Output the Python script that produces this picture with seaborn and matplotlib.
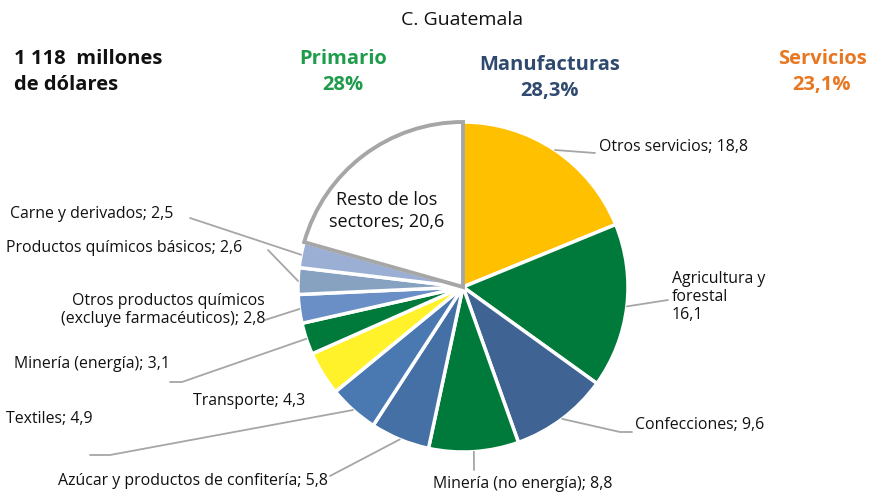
import numpy as np
import matplotlib
matplotlib.use("Agg")
import matplotlib.pyplot as plt
import seaborn as sns

# data, clockwise from 12 o'clock
sectors = [
    "Otros servicios", "Agricultura y forestal", "Confecciones", "Minería (no energía)",
    "Azúcar y productos de confitería", "Textiles", "Transporte", "Minería (energía)",
    "Otros productos químicos (excluye farmacéuticos)", "Productos químicos básicos",
    "Carne y derivados", "Resto de los sectores",
]
shares = [18.8, 16.1, 9.6, 8.8, 5.8, 4.9, 4.3, 3.1, 2.8, 2.6, 2.5, 20.6]
label_texts = [
    "Otros servicios; 18,8", "Agricultura y\nforestal\n16,1", "Confecciones; 9,6",
    "Minería (no energía); 8,8", "Azúcar y productos de confitería; 5,8", "Textiles; 4,9",
    "Transporte; 4,3", "Minería (energía); 3,1",
    "Otros productos químicos\n(excluye farmacéuticos); 2,8",
    "Productos químicos básicos; 2,6", "Carne y derivados; 2,5", "Resto de los\nsectores; 20,6",
]
colors = ["#FFC000", "#007A3A", "#3F6393", "#007A3A", "#4570A6", "#4A79B2",
          "#FFF22B", "#007A3A", "#6A8FC6", "#87A2C1", "#9BAFD4", "#FFFFFF"]

total_text = "1 118  millones\nde dólares"
groups = ["Primario", "Manufacturas", "Servicios"]
group_shares = ["28%", "28,3%", "23,1%"]
group_colors = ["#1E9B4B", "#2F4A6E", "#E87722"]

sns.set_theme(style="white")
plt.rcParams["font.family"] = ["Open Sans", "DejaVu Sans"]

W, H = 876, 498
CX, CY, R = 463, 287, 165


def px(x, y):
    # pixel position (from top-left) -> data units, radius 1 = R px
    return (x - CX) / R, (CY - y) / R


fig = plt.figure(figsize=(W / 100, H / 100), dpi=100)
ax = fig.add_axes([0, 0, 1, 1])
wedges, _ = ax.pie(
    shares, colors=colors, startangle=90, counterclock=False, radius=1,
    wedgeprops=dict(edgecolor="white", linewidth=2.5),
)
wedges[-1].set_edgecolor("#A6A6A6")
wedges[-1].set_linewidth(2.8)
wedges[-1].set_zorder(3)

x0, y0 = px(0, H)
x1, y1 = px(W, 0)
ax.set_xlim(x0, x1)
ax.set_ylim(y0, y1)
ax.set_aspect("auto")
ax.axis("off")

# label positions (pixels), alignment, leader path (pixels, from arc outward)
layout = [
    ((599, 147), "left", [(595, 153)]),
    ((672, 297), "left", [(668, 300)]),
    ((635, 425), "left", [(620, 432), (632, 432)]),
    ((433, 484), "left", [(474, 470)]),
    ((58, 481), "left", [(330, 476)]),
    ((6, 419), "left", [(110, 455), (90, 455)]),
    ((193, 401), "left", None),
    ((14, 364), "left", [(182, 382), (170, 382)]),
    ((265, 310), "right", [(265, 320)]),
    ((6, 248), "left", [(268, 250)]),
    ((10, 214), "left", [(190, 218)]),
]
line_c = "#A6A6A6"
for w, (pos, ha, path), txt in zip(wedges, layout, label_texts):
    mid = np.deg2rad((w.theta1 + w.theta2) / 2)
    if path:
        xs = [np.cos(mid)] + [px(*p)[0] for p in path]
        ys = [np.sin(mid)] + [px(*p)[1] for p in path]
        ax.plot(xs, ys, color=line_c, lw=1.3, zorder=1)
    tx, ty = px(*pos)
    ax.text(tx, ty, txt, ha=ha, va="center", fontsize=11.4, color="#111111",
            multialignment=ha, linespacing=1.2)

rx, ry = px(387, 211)
ax.text(rx, ry, label_texts[-1], ha="center", va="center", fontsize=13,
        color="#111111", linespacing=1.3, zorder=4)

fig.text(462 / W, 1 - 20 / H, "C. Guatemala", ha="center", va="center",
         fontsize=14, color="#111111")
fig.text(14 / W, 1 - 72 / H, total_text, ha="left", va="center", fontsize=14.5,
         fontweight="bold", color="#111111", linespacing=1.35)
for g, s, c, gx, gy in zip(groups, group_shares, group_colors, [343, 550, 822], [72, 78, 72]):
    fig.text(gx / W, 1 - gy / H, g + "\n" + s, ha="center", va="center", fontsize=14.5,
             fontweight="bold", color=c, linespacing=1.35)

fig.savefig("out.png", dpi=100)
